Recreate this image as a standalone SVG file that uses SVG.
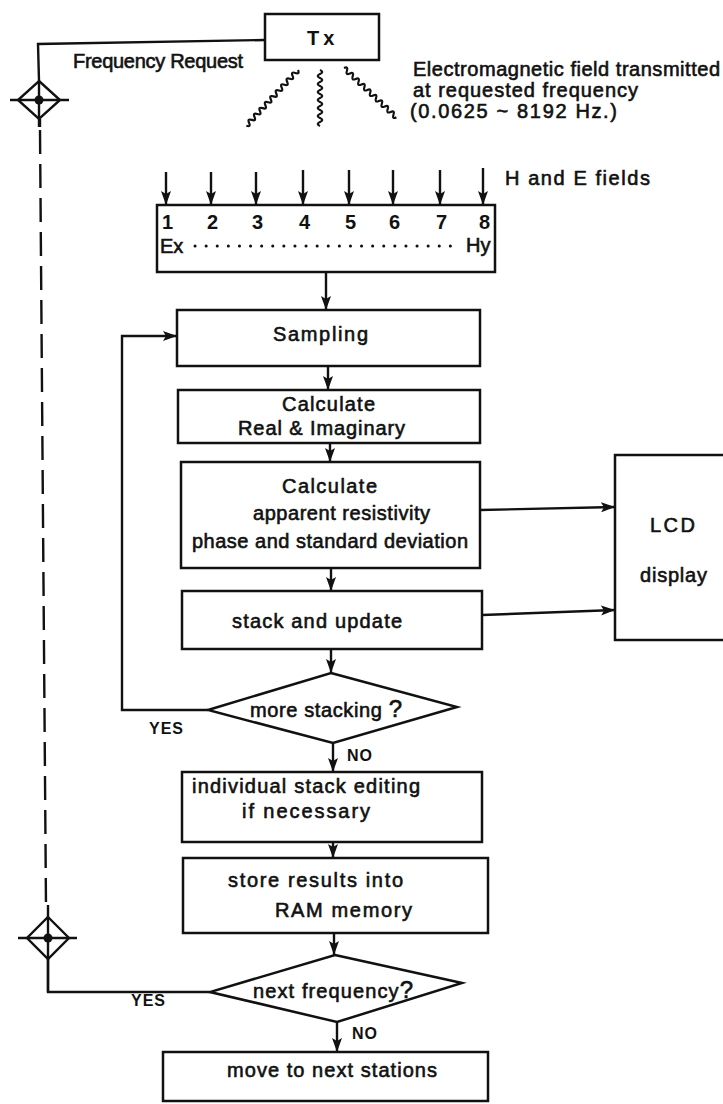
<svg xmlns="http://www.w3.org/2000/svg" width="723" height="1104" viewBox="0 0 723 1104">
<style>
.box{fill:#fff;stroke:#111;stroke-width:2.5}
.ln{fill:none;stroke:#111;stroke-width:2.4}
.wv{fill:none;stroke:#111;stroke-width:2.2}
.t{font-family:"Liberation Sans",Arial,sans-serif;font-size:20px;fill:#111;stroke:#111;stroke-width:0.6}
.b{font-weight:bold;stroke-width:0}
.yn{font-family:"Liberation Sans",Arial,sans-serif;font-size:16px;font-weight:bold;fill:#111;letter-spacing:1px}
</style>
<defs>
<marker id="ah" viewBox="0 0 14 10" refX="14" refY="5" markerWidth="14" markerHeight="10" markerUnits="userSpaceOnUse" orient="auto">
<path d="M0,0 L14,5 L0,10 L3,5 Z" fill="#111"/>
</marker>
</defs>
<rect width="723" height="1104" fill="#fff"/>

<g id="connectors">
<polyline class="ln" points="265,40 38,44 39,81"/>
<line class="ln" x1="40" y1="119" x2="40" y2="127"/>
<line class="ln" x1="40" y1="130" x2="46" y2="907" stroke-width="3" stroke-dasharray="24 10"/>
<polyline class="ln" points="48,959 48,992 210,992"/>
<line class="ln" x1="166" y1="172" x2="166" y2="205" marker-end="url(#ah)"/>
<line class="ln" x1="211" y1="172" x2="211" y2="205" marker-end="url(#ah)"/>
<line class="ln" x1="256" y1="172" x2="256" y2="205" marker-end="url(#ah)"/>
<line class="ln" x1="303" y1="170" x2="303" y2="205" marker-end="url(#ah)"/>
<line class="ln" x1="349" y1="170" x2="349" y2="205" marker-end="url(#ah)"/>
<line class="ln" x1="393" y1="170" x2="393" y2="205" marker-end="url(#ah)"/>
<line class="ln" x1="440" y1="170" x2="440" y2="205" marker-end="url(#ah)"/>
<line class="ln" x1="483" y1="168" x2="483" y2="205" marker-end="url(#ah)"/>
<line class="ln" x1="326" y1="272" x2="326" y2="310" marker-end="url(#ah)"/>
<line class="ln" x1="328" y1="366" x2="328" y2="390" marker-end="url(#ah)"/>
<line class="ln" x1="330" y1="443" x2="330" y2="462" marker-end="url(#ah)"/>
<line class="ln" x1="331" y1="568" x2="331" y2="591" marker-end="url(#ah)"/>
<line class="ln" x1="331" y1="649" x2="331" y2="673" marker-end="url(#ah)"/>
<polyline class="ln" points="208,710 122,710 122,336 177,336" marker-end="url(#ah)"/>
<line class="ln" x1="333" y1="743" x2="333" y2="772" marker-end="url(#ah)"/>
<line class="ln" x1="333" y1="842" x2="333" y2="858" marker-end="url(#ah)"/>
<line class="ln" x1="334" y1="933" x2="334" y2="955" marker-end="url(#ah)"/>
<line class="ln" x1="337" y1="1022" x2="337" y2="1052" marker-end="url(#ah)"/>
<line class="ln" x1="480" y1="510" x2="615" y2="507" marker-end="url(#ah)"/>
<line class="ln" x1="482" y1="615" x2="615" y2="610" marker-end="url(#ah)"/>
</g>

<g id="junction-top">
<polygon class="ln" points="39,81 60,100 39,119 18,100"/>
<line class="ln" x1="10" y1="100" x2="69" y2="100"/>
<line class="ln" x1="39" y1="81" x2="39" y2="127"/>
<circle cx="39" cy="100" r="4.5" fill="#111"/>
</g>

<g id="junction-bottom">
<polygon class="ln" points="48,917 69,938 48,959 27,938" fill="#fff"/>
<line class="ln" x1="18" y1="938" x2="77" y2="938"/>
<line class="ln" x1="48" y1="905" x2="48" y2="992"/>
<circle cx="48" cy="938" r="4.5" fill="#111"/>
</g>

<g id="tx">
<rect class="box" x="265" y="14" width="114" height="46"/>
<text class="t b" x="307" y="45" font-size="21" letter-spacing="4">Tx</text>
</g>
<text class="t" x="73" y="68" font-size="17" textLength="170" lengthAdjust="spacing">Frequency Request</text>

<g id="waves">
<path class="wv" transform="translate(320,70)" d="M0,0 q4.5,2 0,4 t0,4 t0,4 t0,4 t0,4 t0,4 t0,4 t0,4 t0,4 t0,4 t0,4 t0,4 t0,4 t0,4"/>
<path class="wv" transform="translate(298,70) rotate(42.8)" d="M0,0 q4.5,2 0,4 t0,4 t0,4 t0,4 t0,4 t0,4 t0,4 t0,4 t0,4 t0,4 t0,4 t0,4 t0,4 t0,4 t0,4 t0,4 t0,4 t0,4 t0,4"/>
<path class="wv" transform="translate(344,68) rotate(-46.7)" d="M0,0 q4.5,2 0,4 t0,4 t0,4 t0,4 t0,4 t0,4 t0,4 t0,4 t0,4 t0,4 t0,4 t0,4 t0,4 t0,4 t0,4 t0,4 t0,4 t0,4"/>
</g>
<text class="t" x="413" y="76" font-size="19" textLength="307" lengthAdjust="spacing">Electromagnetic field transmitted</text>
<text class="t" x="413" y="97" font-size="19" textLength="225" lengthAdjust="spacing">at requested frequency</text>
<text class="t" x="410" y="118" font-size="19" textLength="207" lengthAdjust="spacing">(0.0625 ~ 8192 Hz.)</text>
<text class="t" x="505" y="185" font-size="17" textLength="145" lengthAdjust="spacing">H and E fields</text>

<g id="sensors">
<rect class="box" x="157" y="205" width="338" height="67"/>
<g class="t b" font-size="15">
<text x="162" y="229">1</text>
<text x="207" y="229">2</text>
<text x="252" y="229">3</text>
<text x="299" y="229">4</text>
<text x="345" y="229">5</text>
<text x="389" y="229">6</text>
<text x="436" y="229">7</text>
<text x="479" y="229">8</text>
</g>
<text class="t" x="160" y="253" font-size="19">Ex</text>
<line x1="195" y1="246" x2="460" y2="246" stroke="#111" stroke-width="3" stroke-linecap="round" stroke-dasharray="0.1 11"/>
<text class="t" x="466" y="252" font-size="19">Hy</text>
</g>

<g id="sampling">
<rect class="box" x="177" y="310" width="303" height="56"/>
<text class="t" x="273" y="341" textLength="95" lengthAdjust="spacing">Sampling</text>
</g>

<g id="real-imag">
<rect class="box" x="178" y="390" width="302" height="53"/>
<text class="t" x="282" y="411" textLength="93" lengthAdjust="spacing">Calculate</text>
<text class="t" x="238" y="435" textLength="167" lengthAdjust="spacing">Real &amp; Imaginary</text>
</g>

<g id="apparent">
<rect class="box" x="181" y="462" width="299" height="106"/>
<text class="t" x="282" y="493" textLength="95" lengthAdjust="spacing">Calculate</text>
<text class="t" x="253" y="520" textLength="177" lengthAdjust="spacing">apparent resistivity</text>
<text class="t" x="192" y="548" textLength="276" lengthAdjust="spacing">phase and standard deviation</text>
</g>

<g id="lcd">
<rect class="box" x="615" y="455" width="130" height="185"/>
<text class="t" x="650" y="532" textLength="45" lengthAdjust="spacing">LCD</text>
<text class="t" x="640" y="582" textLength="67" lengthAdjust="spacing">display</text>
</g>

<g id="stack">
<rect class="box" x="182" y="591" width="300" height="58"/>
<text class="t" x="232" y="628" textLength="170" lengthAdjust="spacing">stack and update</text>
</g>

<g id="more-stacking">
<polygon class="box" points="331,673 457,707 333,743 208,710"/>
<text class="t" x="250" y="717" textLength="152" lengthAdjust="spacing">more stacking <tspan font-size="24">?</tspan></text>
</g>
<text class="yn" x="149" y="734">YES</text>
<text class="yn" x="347" y="761">NO</text>

<g id="editing">
<rect class="box" x="182" y="772" width="300" height="70"/>
<text class="t" x="192" y="793" textLength="228" lengthAdjust="spacing">individual stack editing</text>
<text class="t" x="242" y="818" textLength="128" lengthAdjust="spacing">if necessary</text>
</g>

<g id="store">
<rect class="box" x="183" y="858" width="305" height="75"/>
<text class="t" x="228" y="887" textLength="175" lengthAdjust="spacing">store results into</text>
<text class="t" x="275" y="917" textLength="137" lengthAdjust="spacing">RAM memory</text>
</g>

<g id="next-frequency">
<polygon class="box" points="335,955 462,983 337,1022 210,992"/>
<text class="t" x="253" y="998" textLength="160" lengthAdjust="spacing">next frequency<tspan font-size="24">?</tspan></text>
</g>
<text class="yn" x="131" y="1006">YES</text>
<text class="yn" x="352" y="1039">NO</text>

<g id="move">
<rect class="box" x="163" y="1052" width="325" height="49"/>
<text class="t" x="227" y="1077" textLength="210" lengthAdjust="spacing">move to next stations</text>
</g>
</svg>
